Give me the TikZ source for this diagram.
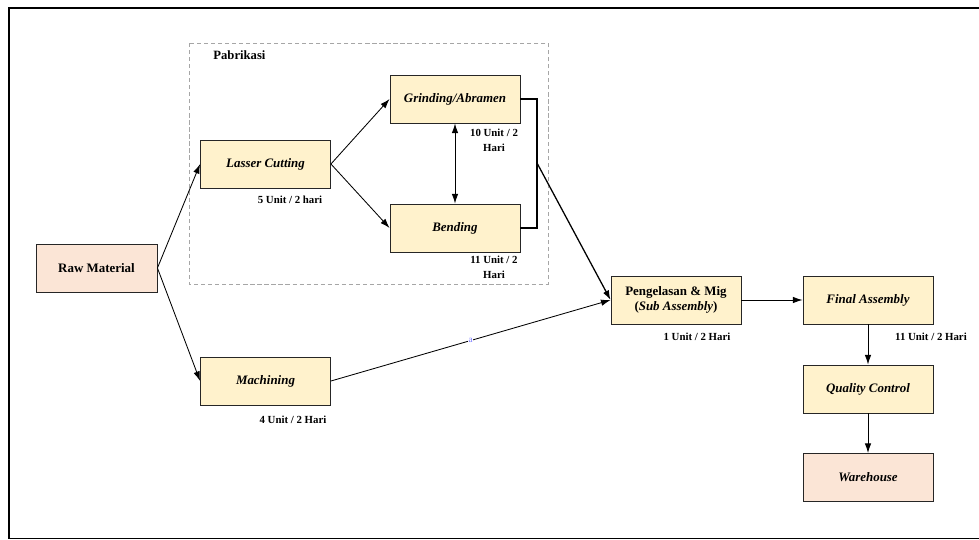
\documentclass[tikz,border=0pt]{standalone}
\usepackage{fontspec}
\setmainfont{Liberation Serif}
\usepackage{tikz}
\usetikzlibrary{arrows,arrows.meta,positioning}

\definecolor{krem}{HTML}{FFF2CC}
\definecolor{peach}{HTML}{FBE5D6}

\tikzset{
  proses/.style={draw=black!85, fill=krem, minimum width=3.25cm, minimum height=1.2cm,
    inner sep=1pt, align=center, font=\fontsize{9.2}{11}\selectfont\bfseries\itshape},
  ujung/.style={proses, fill=peach},
  kapasitas/.style={font=\fontsize{7.7}{10.5}\selectfont\bfseries, align=center, inner sep=0pt},
}

\begin{document}
\begin{tikzpicture}[>={Latex[length=2.4mm,width=1.6mm]}, x=0.025cm, y=-0.025cm, line width=0.6pt]
\useasboundingbox (0,0) rectangle (979,539);
%		\draw [help lines] (0,0) grid (979,539);
		\draw [line width=1.4pt] (979,8) -- (9,8) -- (9,539);
		\draw [line width=0.6pt] (9,538) -- (979,538);
		\draw [densely dashed, black!35, line width=0.4pt] (189,43) rectangle (548,284);
		\node [kapasitas, font=\fontsize{9}{11}\selectfont\bfseries, anchor=west] (pabrik) at (213,55) {Pabrikasi};
		\node [ujung, minimum width=3.025cm, font=\fontsize{9.2}{11}\selectfont\bfseries] (raw) at (96.5,268) {Raw Material};
		\node [proses] (laser) at (265.5,164) {Lasser Cutting};
		\node [proses] (grind) at (455,99) {Grinding/Abramen};
		\node [proses] (bend) at (455,228) {Bending};
		\node [proses] (mach) at (265.5,381) {Machining};
		\node [proses, font=\fontsize{9.2}{11}\selectfont\bfseries] (weld) at (676,300) {Pengelasan \& Mig\\({\itshape Sub Assembly})};
		\node [proses] (final) at (868,300) {Final Assembly};
		\node [proses] (qc) at (868,389) {Quality Control};
		\node [ujung] (ware) at (868,477.5) {Warehouse};
		\node [kapasitas] (k1) at (290,200) {5 Unit / 2 hari};
		\node [kapasitas] (k2) at (494,140) {10 Unit / 2\\Hari};
		\node [kapasitas] (k3) at (494,267) {11 Unit / 2\\Hari};
		\node [kapasitas] (k4) at (293,420) {4 Unit / 2 Hari};
		\node [kapasitas] (k5) at (697,337) {1 Unit / 2 Hari};
		\node [kapasitas] (k6) at (931,337) {11 Unit / 2 Hari};
		\coordinate (j1) at (537,99);
		\coordinate (j2) at (537,228);
		\coordinate (jm) at (537,163);
		\draw [->] (raw.east) -- (laser.west);
		\draw [->] (raw.east) -- (mach.west);
		\draw [->] (laser.east) -- (grind.west);
		\draw [->] (laser.east) -- (bend.west);
		\draw [<->] (grind) -- (bend);
		\draw [line width=0.9pt] (grind.east) -- (j1) -- (j2) -- (bend.east);
		\draw [->, line width=0.9pt] (jm) -- (weld.west);
		\draw [->] (mach.east) -- (weld.west) node [pos=0.5, text=blue!55!white, fill=white, font=\fontsize{6.5}{6.5}\selectfont, inner sep=0.4pt] (a) {a};
		\draw [->] (weld) -- (final);
		\draw [->] (final) -- (qc);
		\draw [->] (qc) -- (ware);
\end{tikzpicture}
\end{document}
